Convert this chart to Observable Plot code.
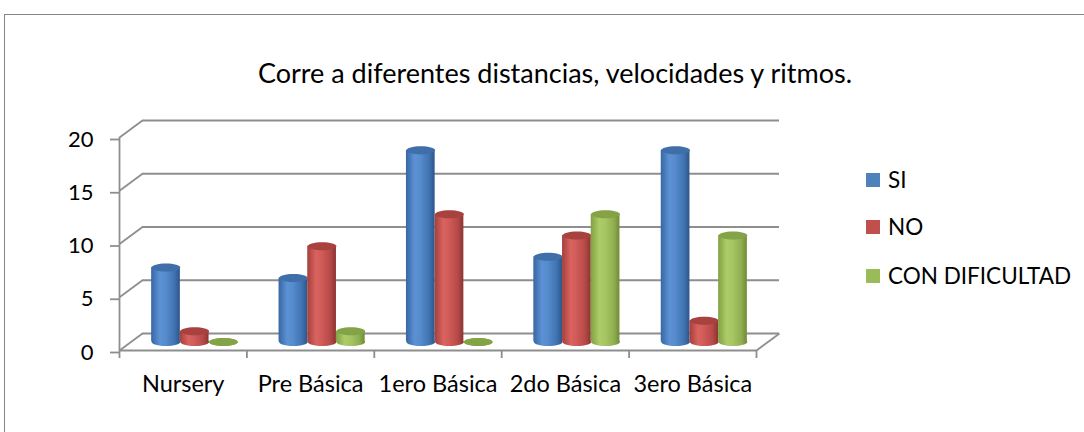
<!DOCTYPE html>
<html>
<head>
<meta charset="utf-8">
<script src="https://cdn.jsdelivr.net/npm/d3@7"></script>
<script src="https://cdn.jsdelivr.net/npm/@observablehq/plot@0.6"></script>
<style>
  html, body { margin: 0; padding: 0; background: #fff; overflow: hidden; }
  #wrap { position: relative; width: 1084px; height: 432px; overflow: hidden; font-family: Lato, "Open Sans", sans-serif; }
  #frame { position: absolute; left: 4px; top: 14px; width: 1200px; height: 600px; border: 1.5px solid #868686; box-sizing: border-box; }
  #title { position: absolute; left: 0; width: 1110px; top: 56px; text-align: center; font-size: 27px; color: #000; }
  #chart { position: absolute; left: 0; top: 0; }
  .lg { position: absolute; left: 866px; font-size: 22.5px; color: #000; height: 20px; }
  .lg span.sw { position: absolute; left: 0; top: 0; width: 14px; height: 14px; }
  .lg span.tx { position: absolute; left: 22px; top: -7px; white-space: nowrap; }
</style>
</head>
<body>
<div id="wrap">
  <div id="frame"></div>
  <div id="chart"></div>
  <div id="title">Corre a diferentes distancias, velocidades y ritmos.</div>
  <div id="legend"></div>
</div>
<script>
// ---- data ----
const categories = ["Nursery", "Pre Básica", "1ero Básica", "2do Básica", "3ero Básica"];
const seriesNames = ["SI", "NO", "CON DIFICULTAD"];
const si = [7, 6, 18, 8, 18];
const no = [1, 9, 12, 10, 2];
const conDificultad = [0, 1, 0, 12, 10];
const yTicks = [0, 5, 10, 15, 20];

// ---- styles ----
const seriesValues = [si, no, conDificultad];
const legendColors = ["#4F81BD", "#C0504D", "#9BBB59"];
const topColors = ["#3f6ea8", "#a8423f", "#84a347"];
const gradStops = [
  ["#3766a3", "#5c92d5", "#568bcd", "#4074b2", "#2d568b"],
  ["#a43f3c", "#d9635f", "#d05b58", "#b54a47", "#8c3432"],
  ["#80a043", "#adcc69", "#a6c563", "#90af50", "#6f8b37"]
];

const W = 1084, H = 432;
const mL = 119, mR = W - 756, mT = 137, mB = H - 350;
const plotW = W - mL - mR, plotH = H - mT - mB;
const depth = [23, -17];          // back-wall offset in pixels
const mid = [depth[0] / 2, depth[1] / 2];
const ux = categories.length / plotW;    // data units per px (x)
const uy = 20 / plotH;                   // data units per px (y)
const depthX = depth[0] * ux, depthY = -depth[1] * uy;
const barPx = 28.7;
const barW = barPx * ux;                 // bar width in x units
const gridColor = "#8e8e8e";

function ellipseSymbol(rx, ry) {
  return {
    draw(ctx) {
      const k = 0.5522847498;
      ctx.moveTo(rx, 0);
      ctx.bezierCurveTo(rx, ry * k, rx * k, ry, 0, ry);
      ctx.bezierCurveTo(-rx * k, ry, -rx, ry * k, -rx, 0);
      ctx.bezierCurveTo(-rx, -ry * k, -rx * k, -ry, 0, -ry);
      ctx.bezierCurveTo(rx * k, -ry, rx, -ry * k, rx, 0);
      ctx.closePath();
    }
  };
}
const ell = ellipseSymbol(barPx / 2, 4);

const marks = [
  // back wall gridlines
  Plot.ruleY(yTicks, {dx: depth[0], dy: depth[1], stroke: gridColor, strokeWidth: 1.8}),
  // side wall diagonals
  Plot.link(yTicks, {x1: 0, y1: d => d, x2: depthX, y2: d => d + depthY, stroke: gridColor, strokeWidth: 1.8}),
  // floor right edge
  Plot.link([0], {x1: categories.length, y1: 0, x2: categories.length + depthX, y2: depthY, stroke: gridColor, strokeWidth: 1.8}),
  // front floor edge and vertical axis line
  Plot.ruleY([0], {stroke: gridColor, strokeWidth: 1.8}),
  Plot.ruleX([0], {stroke: gridColor, strokeWidth: 1.8}),
  Plot.axisY({ticks: yTicks, tickSize: 9, tickPadding: 17, stroke: gridColor, strokeWidth: 1.8, fill: "#000", fontSize: 22, dy: 2, label: null}),
  Plot.axisX({ticks: d3.range(categories.length + 1), tickSize: 8, stroke: gridColor, strokeWidth: 1.8, tickFormat: () => "", label: null}),
  Plot.axisX({ticks: categories.map((c, i) => i + 0.5), tickSize: 0, tickPadding: 25, tickFormat: d => categories[Math.floor(d)], fill: "#000", fontSize: 23.5, label: null})
];

seriesNames.forEach((name, s) => {
  const rows = categories.map((c, i) => ({i, cat: c, v: seriesValues[s][i]}));
  const off = 0.5 + (s - 1.5) * barW;
  const grad = `url(#grad${s})`;
  marks.push(
    Plot.dot(rows, {x: d => d.i + off + barW / 2, y: 0, dx: mid[0], dy: mid[1], symbol: ell, fill: grad, stroke: "none"}),
    Plot.rect(rows.filter(d => d.v > 0), {x1: d => d.i + off, x2: d => d.i + off + barW, y1: 0, y2: d => d.v, dx: mid[0], dy: mid[1], fill: grad, stroke: "none"}),
    Plot.dot(rows, {x: d => d.i + off + barW / 2, y: d => d.v, dx: mid[0], dy: mid[1], symbol: ell, fill: topColors[s], stroke: "none"})
  );
});

const chart = Plot.plot({
  width: W, height: H,
  marginLeft: mL, marginRight: mR, marginTop: mT, marginBottom: mB,
  x: {type: "linear", domain: [0, categories.length], axis: null},
  y: {domain: [0, 20], axis: null},
  style: {background: "transparent", fontFamily: "Lato, 'Open Sans', sans-serif", fontSize: "22px", overflow: "visible"},
  marks
});

const defs = gradStops.map((st, s) => `<linearGradient id="grad${s}" x1="0" y1="0" x2="1" y2="0">
  <stop offset="0" stop-color="${st[0]}"/><stop offset="0.3" stop-color="${st[1]}"/>
  <stop offset="0.5" stop-color="${st[2]}"/><stop offset="0.8" stop-color="${st[3]}"/>
  <stop offset="1" stop-color="${st[4]}"/></linearGradient>`).join("");
chart.insertAdjacentHTML("afterbegin", `<defs>${defs}</defs>`);
document.getElementById("chart").appendChild(chart);

const legendTops = [173, 220, 269];
const lg = document.getElementById("legend");
seriesNames.forEach((name, s) => {
  const item = document.createElement("div");
  item.className = "lg";
  item.style.top = legendTops[s] + "px";
  item.innerHTML = `<span class="sw" style="background:${legendColors[s]}"></span><span class="tx">${name}</span>`;
  lg.appendChild(item);
});
</script>
</body>
</html>
